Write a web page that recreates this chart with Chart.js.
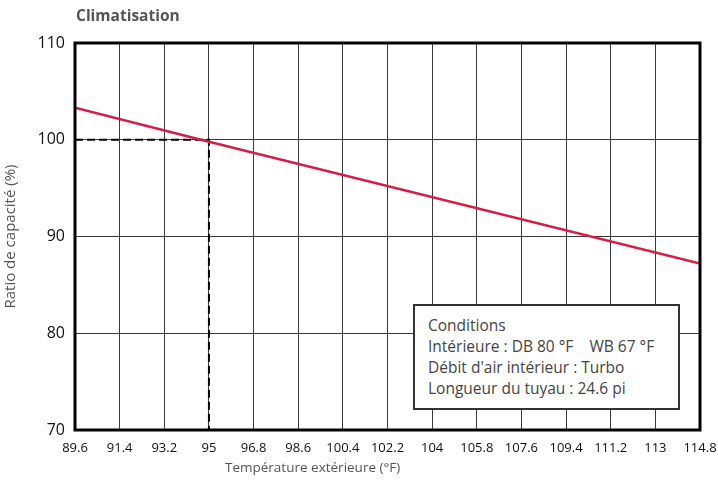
<!DOCTYPE html>
<html>
<head>
<meta charset="utf-8">
<script src="https://cdn.jsdelivr.net/npm/chart.js@4"></script>
<style>
  html, body { margin: 0; padding: 0; background: #fff; }
  #wrap { position: relative; width: 718px; height: 491px; font-family: 'Open Sans', sans-serif; }
  #chart { position: absolute; left: 0; top: 0; }
  .title { position: absolute; left: 76px; top: 4px; font-size: 15.5px; font-weight: bold; color: #555; }
  .xtitle { position: absolute; left: 225px; top: 458px; font-size: 13.5px; color: #555; }
  .cond { position: absolute; left: 413px; top: 304px; width: 267px; height: 106px; box-sizing: border-box;
          border: 2px solid #333; background: #fff; padding: 9px 0 0 13px; font-size: 15.5px; line-height: 21px; color: #444; white-space: nowrap; }
</style>
</head>
<body>
<div id="wrap">
  <canvas id="chart" width="718" height="491"></canvas>
  <div class="title">Climatisation</div>
  <div class="xtitle">Température extérieure (°F)</div>
  <div class="cond">
    Conditions<br>
    Intérieure : DB 80 °F&nbsp;&nbsp;&nbsp;&nbsp;WB 67 °F<br>
    Débit d'air intérieur : Turbo<br>
    Longueur du tuyau : 24.6 pi
  </div>
</div>
<script>
var xTicks = [89.6, 91.4, 93.2, 95, 96.8, 98.6, 100.4, 102.2, 104, 105.8, 107.6, 109.4, 111.2, 113, 114.8];
var yTicks = [70, 80, 90, 100, 110];

// capacity ratio curve (read at ends and at 95 °F)
var tempX = [89.6, 95, 114.8];
var ratioY = [103.3, 99.8, 87.2];

// dashed reference line at 95 °F / 100 %
var guideX = [89.6, 95, 95];
var guideY = [100, 100, 70];

function pts(xs, ys) {
  return xs.map(function(x, i) { return { x: x, y: ys[i] }; });
}

var frame = {
  id: 'frame',
  afterDatasetsDraw: function(chart) {
    var a = chart.chartArea, c = chart.ctx;
    c.save();
    c.strokeStyle = '#000';
    c.lineWidth = 3;
    c.strokeRect(a.left, a.top, a.right - a.left, a.bottom - a.top);
    c.restore();
  }
};

new Chart(document.getElementById('chart').getContext('2d'), {
  type: 'line',
  data: {
    datasets: [
      { label: 'Ratio', data: pts(tempX, ratioY), borderColor: '#d41f45', borderWidth: 2.5, pointRadius: 0, tension: 0 },
      { label: 'Guide', data: pts(guideX, guideY), borderColor: '#000', borderWidth: 2, borderDash: [8, 4], pointRadius: 0, tension: 0 }
    ]
  },
  options: {
    responsive: false, animation: false,
    layout: { padding: { top: 43, right: 18, left: 0, bottom: 0 } },
    plugins: { legend: { display: false }, tooltip: { enabled: false } },
    scales: {
      x: {
        type: 'linear', min: xTicks[0], max: xTicks[xTicks.length - 1],
        afterBuildTicks: function(s) { s.ticks = xTicks.map(function(v) { return { value: v }; }); },
        afterFit: function(s) { s.height = 61; s.paddingLeft = 0; s.paddingRight = 0; },
        grid: { color: '#3a3a3a', lineWidth: 1, drawTicks: false },
        border: { display: false },
        ticks: { autoSkip: false, maxRotation: 0, padding: 10, color: '#111', font: { family: 'Open Sans', size: 13 },
          callback: function(v) { return String(v); } }
      },
      y: {
        min: yTicks[0], max: yTicks[yTicks.length - 1],
        afterBuildTicks: function(s) { s.ticks = yTicks.map(function(v) { return { value: v }; }); },
        afterFit: function(s) { s.width = 75; },
        grid: { color: '#3a3a3a', lineWidth: 1, drawTicks: false },
        border: { display: false },
        ticks: { padding: 10, color: '#111', font: { family: 'Open Sans', size: 16 } },
        title: { display: true, text: 'Ratio de capacité (%)', color: '#555', font: { family: 'Open Sans', size: 15 }, padding: { top: 2, bottom: 0 } }
      }
    }
  },
  plugins: [frame]
});
</script>
</body>
</html>
